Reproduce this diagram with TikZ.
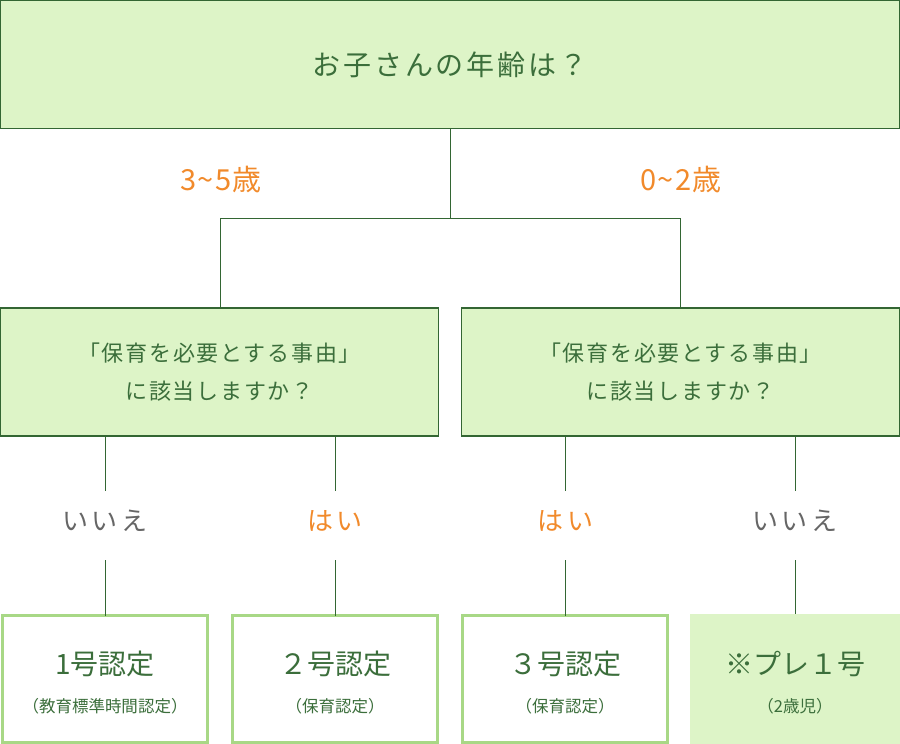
\documentclass[tikz,border=0pt]{standalone}
\usepackage{fontspec}
\newfontfamily\jp{Noto Sans CJK JP}
\newfontfamily\jpwide[LetterSpace=10]{Noto Sans CJK JP}
\newfontfamily\jpmid[LetterSpace=8]{Noto Sans CJK JP}
\newfontfamily\jpans[LetterSpace=15]{Noto Sans CJK JP}
\newfontfamily\jpage[LetterSpace=4]{Noto Sans CJK JP}
\definecolor{boxfill}{HTML}{DDF4C7}
\definecolor{darkgreen}{HTML}{336633}
\definecolor{txtgreen}{HTML}{3B6E3B}
\definecolor{orangetxt}{HTML}{F18A2B}
\definecolor{graytxt}{HTML}{666666}
\definecolor{lightborder}{HTML}{A8D886}
\begin{document}
\begin{tikzpicture}[x=1pt,y=-1pt,
  qbox/.style={draw=darkgreen, line width=1.3pt, fill=boxfill, inner sep=0pt, outer sep=0pt, text=txtgreen},
  rbox/.style={draw=lightborder, line width=3pt, fill=white, inner sep=0pt, outer sep=0pt,
    minimum width=205pt, minimum height=127pt},
  pbox/.style={fill=boxfill, inner sep=0pt, outer sep=0pt, minimum width=210pt, minimum height=130pt},
  conn/.style={draw=darkgreen, line width=1pt},
  agelab/.style={text=orangetxt, font=\jpage\fontsize{29}{30}\selectfont, inner sep=0pt},
  anslab/.style={font=\jpans\fontsize{26}{28}\selectfont, inner sep=0pt, minimum height=69pt,
    text height=23pt, text depth=13pt},
  yeslab/.style={anslab, text=orangetxt},
  nolab/.style={anslab, text=graytxt},
  bigtxt/.style={text=txtgreen, font=\jp\fontsize{28}{30}\selectfont, inner sep=0pt},
  smalltxt/.style={text=txtgreen, font=\jp\fontsize{16.5}{18}\selectfont, inner sep=0pt}
]
\useasboundingbox (0,0) rectangle (900,744);

% top question
\node[qbox, minimum width=898.7pt, minimum height=128pt, font=\jpwide\fontsize{28}{30}\selectfont]
  (top) at (450,64.5) {お子さんの年齢は？};

% branching
\coordinate (j) at (450,218);
\coordinate (jl) at (220.5,218);
\coordinate (jr) at (680,218);
\node[agelab] (age1) at (221,180) {3\textasciitilde5歳};
\node[agelab] (age2) at (681,180) {0\textasciitilde2歳};

% middle questions
\node[qbox, minimum width=438pt, minimum height=128pt, align=center,
  font=\jpmid\fontsize{22}{38}\selectfont] (m1) at (219.5,372)
  {「保育を必要とする事由」\\に該当しますか？};
\node[qbox, minimum width=438pt, minimum height=128pt, align=center,
  font=\jpmid\fontsize{22}{38}\selectfont] (m2) at (680.5,372)
  {「保育を必要とする事由」\\に該当しますか？};

\draw[conn] (top.south) -- (j);
\draw[conn] (jl) -- (jr);
\draw[conn] (jl) -- (jl |- m1.north);
\draw[conn] (jr) -- (jr |- m2.north);

% answers
\node[nolab]  (a1) at (105,525.5) {いいえ};
\node[yeslab] (a2) at (335,525.5) {はい};
\node[yeslab] (a3) at (565.5,525.5) {はい};
\node[nolab]  (a4) at (795,525.5) {いいえ};

% results
\node[rbox] (b1) at (105,679) {};
\node[rbox] (b2) at (335,679) {};
\node[rbox] (b3) at (565,679) {};
\node[pbox] (b4) at (795,679) {};

\node[bigtxt]   (b1t) at (105,664) {1号認定};
\node[smalltxt] (b1s) at (105,706) {（教育標準時間認定）};
\node[bigtxt]   (b2t) at (335,664) {２号認定};
\node[smalltxt] (b2s) at (335,706) {（保育認定）};
\node[bigtxt]   (b3t) at (565,664) {３号認定};
\node[smalltxt] (b3s) at (565,706) {（保育認定）};
\node[bigtxt]   (b4t) at (795,664) {※プレ１号};
\node[smalltxt] (b4s) at (795,706) {（2歳児）};

% connectors
\foreach \a/\m/\b in {a1/m1/b1, a2/m1/b2, a3/m2/b3, a4/m2/b4}{
  \draw[conn] (\a.north |- \m.south) -- (\a.north);
  \draw[conn] (\a.south) -- (\a.south |- \b.north);
}
\end{tikzpicture}
\end{document}
